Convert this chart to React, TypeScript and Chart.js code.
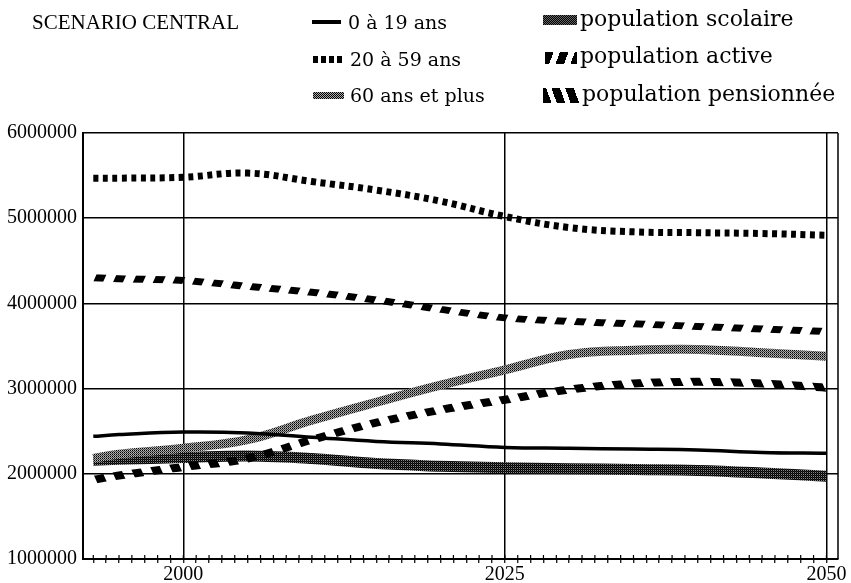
import React, { useEffect, useRef } from "react";
import { Chart, registerables } from "chart.js";

Chart.register(...registerables);

// ---- data ----
const YEARS = [1993, 1995, 2000, 2005, 2010, 2015, 2020, 2025, 2030, 2035, 2040, 2045, 2050];
const AGE_0_19 = [2440000, 2460000, 2490000, 2480000, 2430000, 2380000, 2350000, 2310000, 2300000, 2290000, 2280000, 2250000, 2240000];
const AGE_20_59 = [5470000, 5470000, 5480000, 5530000, 5430000, 5330000, 5200000, 5020000, 4890000, 4840000, 4830000, 4820000, 4800000];
const AGE_60_PLUS = [2180000, 2230000, 2300000, 2400000, 2630000, 2840000, 3040000, 3220000, 3400000, 3450000, 3460000, 3420000, 3380000];
const POP_SCOLAIRE = [2160000, 2170000, 2190000, 2210000, 2180000, 2120000, 2090000, 2070000, 2060000, 2050000, 2040000, 2010000, 1970000];
const POP_ACTIVE = [4300000, 4290000, 4270000, 4200000, 4130000, 4040000, 3930000, 3830000, 3790000, 3760000, 3730000, 3700000, 3670000];
const POP_PENSION = [1930000, 1980000, 2080000, 2180000, 2400000, 2600000, 2750000, 2870000, 2990000, 3060000, 3080000, 3060000, 3010000];
const X_LABELS = [2000, 2025, 2050];
const Y_MIN = 1000000;
const Y_MAX = 6000000;
const Y_STEP = 1000000;
const TITLE = "SCENARIO CENTRAL";
const LABELS = ["0 à 19 ans", "20 à 59 ans", "60 ans et plus", "population scolaire", "population active", "population pensionnée"];

const FONT = '"Liberation Serif", "DejaVu Serif", serif';
const WIDE_FONT = '"DejaVu Serif", "Liberation Serif", serif';

function stipple(rows: string[][]): CanvasPattern {
  const c = document.createElement("canvas");
  c.width = rows[0].length;
  c.height = rows.length;
  const g = c.getContext("2d")!;
  rows.forEach((row, y) =>
    row.forEach((col, x) => {
      g.fillStyle = col;
      g.fillRect(x, y, 1, 1);
    })
  );
  return g.createPattern(c, "repeat")!;
}

function stripes(period: number, dash: number, skew: number): CanvasPattern {
  const c = document.createElement("canvas");
  c.width = period;
  c.height = 1;
  const g = c.getContext("2d")!;
  g.fillStyle = "#000";
  g.fillRect(0, 0, dash, 1);
  const p = g.createPattern(c, "repeat")!;
  p.setTransform(new DOMMatrix([1, 0, skew, 1, 0, 0]));
  return p;
}

const framePlugin = {
  id: "frame",
  afterDraw(chart: any) {
    const { ctx, chartArea, scales } = chart;
    const { right, top, bottom } = chartArea;
    const x = scales.x;
    ctx.save();
    ctx.strokeStyle = "#000";
    ctx.lineWidth = 1.5;
    ctx.beginPath();
    ctx.moveTo(right, top);
    ctx.lineTo(right, bottom);
    ctx.stroke();
    ctx.lineWidth = 1.2;
    ctx.beginPath();
    x.ticks.forEach((t: any) => {
      const px = x.getPixelForValue(t.value);
      ctx.moveTo(px, bottom - 4);
      ctx.lineTo(px, bottom);
    });
    ctx.stroke();
    ctx.restore();
  },
};

const swatchBase: React.CSSProperties = { position: "absolute" };
const textBase: React.CSSProperties = {
  position: "absolute",
  lineHeight: "24px",
  whiteSpace: "nowrap",
  color: "#000",
};
const leftText: React.CSSProperties = { ...textBase, fontFamily: WIDE_FONT, fontSize: 19 };
const rightText: React.CSSProperties = { ...textBase, fontFamily: WIDE_FONT, fontSize: 22 };

export default function App() {
  const ref = useRef<HTMLCanvasElement | null>(null);

  useEffect(() => {
    document.body.style.margin = "0";
    const canvas = ref.current!;
    const light = stipple([
      ["#000", "#bbb"],
      ["#999", "#444"],
    ]);
    const dark = stipple([
      ["#000", "#888"],
      ["#222", "#000"],
    ]);
    const slashFwd = stripes(20, 10, -0.45);
    const slashBack = stripes(20, 10, 0.45);

    const mk = (vals: number[]) => YEARS.map((y, i) => ({ x: y, y: vals[i] }));

    const chart = new Chart(canvas, {
      type: "line",
      data: {
        datasets: [
          { label: LABELS[0], data: mk(AGE_0_19), borderColor: "#000", borderWidth: 3.5 },
          { label: LABELS[1], data: mk(AGE_20_59), borderColor: "#000", borderWidth: 7, borderDash: [5, 4.5] },
          { label: LABELS[4], data: mk(POP_ACTIVE), borderColor: slashFwd as any, borderWidth: 7 },
          { label: LABELS[5], data: mk(POP_PENSION), borderColor: slashBack as any, borderWidth: 8 },
          { label: LABELS[2], data: mk(AGE_60_PLUS), borderColor: light as any, borderWidth: 9 },
          { label: LABELS[3], data: mk(POP_SCOLAIRE), borderColor: dark as any, borderWidth: 11 },
        ],
      },
      options: {
        animation: false,
        responsive: false,
        devicePixelRatio: 1,
        layout: { padding: { top: 133, right: 13, left: 0, bottom: 0 } },
        plugins: { legend: { display: false }, tooltip: { enabled: false } },
        elements: {
          point: { radius: 0 },
          line: { tension: 0.4, borderCapStyle: "butt", fill: false },
        },
        scales: {
          x: {
            type: "linear",
            min: 1992.2,
            max: 2050.9,
            ticks: {
              stepSize: 1,
              autoSkip: false,
              includeBounds: false,
              maxRotation: 0,
              padding: 0,
              color: "#000",
              font: { family: FONT, size: 20 },
              callback: (v: any) => (X_LABELS.includes(Number(v)) ? String(v) : ""),
            },
            grid: {
              color: (c: any) => (c.tick && X_LABELS.includes(c.tick.value) ? "#000" : "rgba(0,0,0,0)"),
              lineWidth: 1.5,
              drawTicks: true,
              tickLength: 4,
              tickColor: "#000",
              tickWidth: 1.2,
            },
            border: { color: "#000", width: 2 },
            afterFit: (s: any) => {
              s.height = 24;
              s.paddingLeft = 0;
              s.paddingRight = 0;
            },
          },
          y: {
            min: Y_MIN,
            max: Y_MAX,
            ticks: {
              stepSize: Y_STEP,
              padding: 6,
              color: "#000",
              font: { family: FONT, size: 20 },
              callback: (v: any) => String(v),
            },
            grid: { color: "#000", lineWidth: 1.5, drawTicks: false },
            border: { color: "#000", width: 2 },
            afterFit: (s: any) => {
              s.width = 83;
              s.paddingTop = 0;
              s.paddingBottom = 0;
            },
          },
        },
      } as any,
      plugins: [framePlugin],
    });
    return () => chart.destroy();
  }, []);

  return (
    <div style={{ position: "relative", width: 851, height: 583, fontFamily: FONT, background: "#fff" }}>
      <canvas ref={ref} width={851} height={583} style={{ position: "absolute", left: 0, top: 0 }} />
      <div style={{ ...textBase, fontSize: 21, left: 32, top: 10 }}>{TITLE}</div>

      <div style={{ ...swatchBase, left: 312, top: 20, width: 29, height: 3.5, background: "#000" }} />
      <div style={{ ...leftText, left: 348, top: 10 }}>{LABELS[0]}</div>

      <div
        style={{
          ...swatchBase,
          left: 313,
          top: 56,
          width: 30,
          height: 7,
          background: "repeating-linear-gradient(90deg, #000 0 5px, transparent 5px 8px)",
        }}
      />
      <div style={{ ...leftText, left: 350, top: 47 }}>{LABELS[1]}</div>

      <div
        style={{
          ...swatchBase,
          left: 313,
          top: 92,
          width: 31,
          height: 7,
          background: "repeating-conic-gradient(#000 0 25%, #aaa 0 50%) 0 0 / 2px 2px",
        }}
      />
      <div style={{ ...leftText, left: 350, top: 83 }}>{LABELS[2]}</div>

      <div
        style={{
          ...swatchBase,
          left: 543,
          top: 15,
          width: 34,
          height: 10,
          background: "repeating-conic-gradient(#000 0 25%, #666 0 50%) 0 0 / 2px 2px",
        }}
      />
      <div style={{ ...rightText, left: 580, top: 7 }}>{LABELS[3]}</div>

      <div
        style={{
          ...swatchBase,
          left: 545,
          top: 52,
          width: 32,
          height: 12,
          background: "repeating-linear-gradient(110deg, #000 0 8px, transparent 8px 14px)",
        }}
      />
      <div style={{ ...rightText, left: 580, top: 44 }}>{LABELS[4]}</div>

      <div
        style={{
          ...swatchBase,
          left: 543,
          top: 88,
          width: 36,
          height: 15,
          background: "repeating-linear-gradient(70deg, #000 0 8px, transparent 8px 13px)",
        }}
      />
      <div style={{ ...rightText, left: 582, top: 82 }}>{LABELS[5]}</div>
    </div>
  );
}
